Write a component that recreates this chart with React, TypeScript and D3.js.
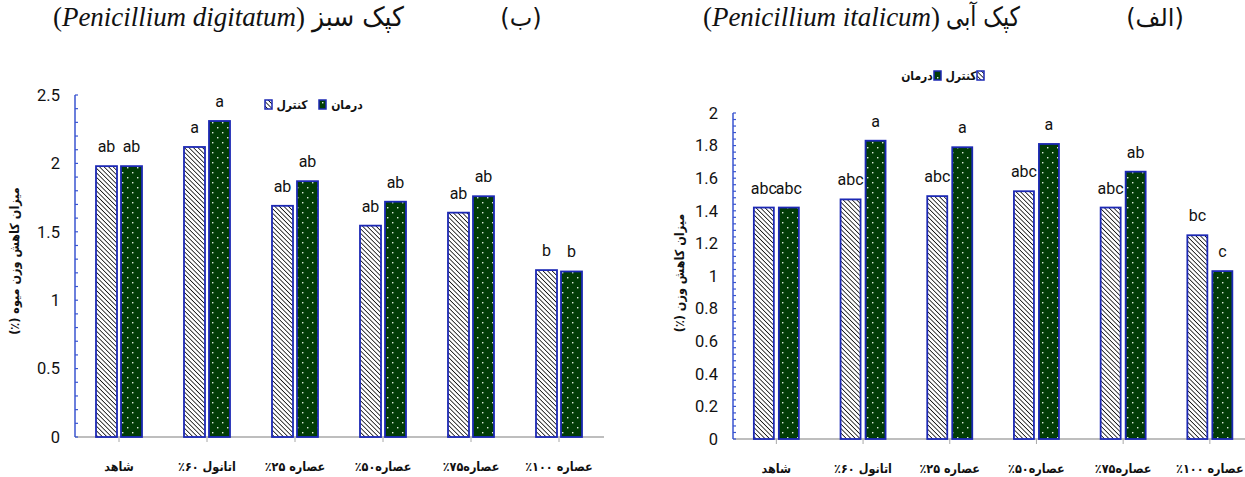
import React, { useEffect } from 'react';
import * as d3 from 'd3';

// ---------- data ----------
const categories = ['شاهد', 'اتانول ۶۰\u200F٪', 'عصاره ۲۵\u200F٪', 'عصاره۵۰\u200F٪', 'عصاره۷۵\u200F٪', 'عصاره ۱۰۰\u200F٪'];
const seriesNames = ['کنترل', 'درمان'];

const digitatumControl = [1.98, 2.12, 1.69, 1.545, 1.64, 1.22];
const digitatumTreatment = [1.98, 2.31, 1.87, 1.72, 1.76, 1.21];
const digitatumControlLetters = ['ab', 'a', 'ab', 'ab', 'ab', 'b'];
const digitatumTreatmentLetters = ['ab', 'a', 'ab', 'ab', 'ab', 'b'];

const italicumControl = [1.42, 1.47, 1.49, 1.52, 1.42, 1.25];
const italicumTreatment = [1.42, 1.83, 1.79, 1.81, 1.64, 1.03];
const italicumControlLetters = ['abc', 'abc', 'abc', 'abc', 'abc', 'bc'];
const italicumTreatmentLetters = ['abc', 'a', 'a', 'a', 'ab', 'c'];

const digitatumTicks = [0, 0.5, 1, 1.5, 2, 2.5];
const italicumTicks = [0, 0.2, 0.4, 0.6, 0.8, 1, 1.2, 1.4, 1.6, 1.8, 2];

const leftYLabel = 'میزان کاهش وزن میوه (٪)';
const rightYLabel = 'میزان کاهش وزن (٪)';

// ---------- styles ----------
const BORDER = '#1c28b4';
const AXIS_BLUE = '#3a55d0';
const GREEN = '#023c06';
const NUM_FONT = "'Liberation Sans Narrow', 'Arial Narrow', Roboto, sans-serif";
const FA_FONT = "'DejaVu Sans Condensed', 'DejaVu Sans', sans-serif";
const SERIF = "'Liberation Serif', 'DejaVu Serif', serif";
const FA_SERIF = "'DejaVu Sans', sans-serif";

type ChartProps = {
  control: number[];
  treatment: number[];
  controlLetters: string[];
  treatmentLetters: string[];
  ticks: number[];
  minorStep: number;
  xLeft: number;
  bandWidth: number;
  yBottom: number;
  yTop: number;
  barW: number;
  gap: number;
  yLabel: string;
  yLabelX: number;
  yLabelY: number;
  axisEnd: number;
};

function BarChart(p: ChartProps) {
  const max = p.ticks[p.ticks.length - 1];
  const y = d3.scaleLinear().domain([0, max]).range([p.yBottom, p.yTop]);
  const x = d3
    .scaleBand<string>()
    .domain(categories)
    .range([p.xLeft, p.xLeft + p.bandWidth * categories.length])
    .padding(0);
  const inner = 2 * p.barW + p.gap;
  const x1 = d3
    .scaleBand<string>()
    .domain(seriesNames)
    .range([-inner / 2, inner / 2])
    .paddingInner(p.gap / (p.barW + p.gap));
  const minor = d3.range(0, max + 1e-9, p.minorStep);
  const fmt = (v: number) => String(+v.toFixed(2));

  return (
    <g>
      {/* x axis */}
      <line x1={p.xLeft} x2={p.axisEnd} y1={p.yBottom} y2={p.yBottom} stroke="#a8a8a8" strokeWidth={1.5} />
      {categories.map((c) => (
        <line key={'xt' + c} x1={x(c)! + x.bandwidth() / 2} x2={x(c)! + x.bandwidth() / 2} y1={p.yBottom} y2={p.yBottom + 5} stroke="#a8a8a8" strokeWidth={1} />
      ))}
      {/* bars */}
      {categories.map((c, i) => {
        const cx = x(c)! + x.bandwidth() / 2;
        const vals = [p.control[i], p.treatment[i]];
        const lets = [p.controlLetters[i], p.treatmentLetters[i]];
        return (
          <g key={'b' + c}>
            {seriesNames.map((s, j) => {
              const bx = cx + x1(s)!;
              const by = y(vals[j]);
              return (
                <g key={s}>
                  <rect
                    x={bx}
                    y={by}
                    width={x1.bandwidth()}
                    height={p.yBottom - by}
                    fill={j === 0 ? 'url(#hatch)' : 'url(#dots)'}
                    stroke={BORDER}
                    strokeWidth={1.8}
                  />
                  <text
                    x={bx + x1.bandwidth() / 2}
                    y={by - 14}
                    textAnchor="middle"
                    fontFamily={NUM_FONT}
                    fontSize={16}
                    fill="#111"
                  >
                    {lets[j]}
                  </text>
                </g>
              );
            })}
            <text
              x={cx}
              y={p.yBottom + 34}
              textAnchor="middle"
              direction="rtl"
              fontFamily={FA_FONT}
              fontWeight="bold"
              fontSize={12.5}
              fill="#111"
            >
              {c}
            </text>
          </g>
        );
      })}
      {/* y axis */}
      <line x1={p.xLeft} x2={p.xLeft} y1={p.yTop} y2={p.yBottom} stroke={AXIS_BLUE} strokeWidth={1.5} />
      {minor.map((v, i) => (
        <line key={'mt' + i} x1={p.xLeft} x2={p.xLeft + 3} y1={y(v)} y2={y(v)} stroke={AXIS_BLUE} strokeWidth={1.2} />
      ))}
      {p.ticks.map((t) => (
        <text key={'yt' + t} x={p.xLeft - 15} y={y(t)} dy="0.35em" textAnchor="end" fontFamily={NUM_FONT} fontSize={16.5} fill="#111">
          {fmt(t)}
        </text>
      ))}
      <text
        transform={`translate(${p.yLabelX},${p.yLabelY}) rotate(-90)`}
        textAnchor="middle"
        dy="0.35em"
        direction="rtl"
        fontFamily={FA_FONT}
        fontWeight="bold"
        fontSize={12.5}
        fill="#111"
      >
        {p.yLabel}
      </text>
    </g>
  );
}

function LegendBox({ x, y, fill }: { x: number; y: number; fill: string }) {
  return <rect x={x} y={y} width={7} height={9} fill={fill} stroke={BORDER} strokeWidth={1.5} />;
}

function LegendText({ x, y, children }: { x: number; y: number; children: React.ReactNode }) {
  return (
    <text x={x} y={y} textAnchor="middle" direction="rtl" fontFamily={FA_FONT} fontWeight="bold" fontSize={12} fill="#111">
      {children}
    </text>
  );
}

export default function App() {
  useEffect(() => {
    document.body.style.margin = '0';
  }, []);
  return (
    <svg width={1245} height={477} style={{ position: 'absolute', left: 0, top: 0, background: '#fff' }}>
      <defs>
        <pattern id="hatch" patternUnits="userSpaceOnUse" width={3.2} height={3.2} patternTransform="rotate(-45)">
          <rect width={3.2} height={3.2} fill="#fff" />
          <line x1={0} y1={0} x2={0} y2={3.2} stroke="#111" strokeWidth={1.6} />
        </pattern>
        <pattern id="dots" patternUnits="userSpaceOnUse" width={10} height={10}>
          <rect width={10} height={10} fill={GREEN} />
          <rect x={2} y={2} width={1.4} height={1.4} fill="#dfeedd" />
          <rect x={7} y={7} width={1.4} height={1.4} fill="#dfeedd" />
        </pattern>
      </defs>

      {/* titles */}
      <text x={53} y={26} fontFamily={SERIF} fontSize={27} fill="#111" textLength={252} lengthAdjust="spacing">
        (<tspan fontStyle="italic">Penicillium digitatum</tspan>)
      </text>
      <text x={358} y={26} textAnchor="middle" direction="rtl" fontFamily={FA_SERIF} fontSize={27} fill="#111" textLength={92} lengthAdjust="spacingAndGlyphs">
        کپک سبز
      </text>
      <text x={521} y={26} textAnchor="middle" direction="rtl" fontFamily={FA_SERIF} fontSize={24} fill="#111">
        (ب)
      </text>
      <text x={703} y={26} fontFamily={SERIF} fontSize={27} fill="#111" textLength={237} lengthAdjust="spacing">
        (<tspan fontStyle="italic">Penicillium italicum</tspan>)
      </text>
      <text x={983} y={26} textAnchor="middle" direction="rtl" fontFamily={FA_SERIF} fontSize={27} fill="#111" textLength={74} lengthAdjust="spacingAndGlyphs">
        کپک آبی
      </text>
      <text x={1155} y={26} textAnchor="middle" direction="rtl" fontFamily={FA_SERIF} fontSize={24} fill="#111">
        (الف)
      </text>

      {/* left chart: Penicillium digitatum */}
      <BarChart
        control={digitatumControl}
        treatment={digitatumTreatment}
        controlLetters={digitatumControlLetters}
        treatmentLetters={digitatumTreatmentLetters}
        ticks={digitatumTicks}
        minorStep={0.1}
        xLeft={75}
        bandWidth={88}
        yBottom={437}
        yTop={95}
        barW={21}
        gap={4}
        yLabel={leftYLabel}
        yLabelX={15}
        yLabelY={261}
        axisEnd={604}
      />
      <LegendBox x={265} y={100} fill="url(#hatch)" />
      <LegendText x={292} y={109}>{seriesNames[0]}</LegendText>
      <LegendBox x={319} y={100} fill="url(#dots)" />
      <LegendText x={347} y={109}>{seriesNames[1]}</LegendText>

      {/* right chart: Penicillium italicum */}
      <BarChart
        control={italicumControl}
        treatment={italicumTreatment}
        controlLetters={italicumControlLetters}
        treatmentLetters={italicumTreatmentLetters}
        ticks={italicumTicks}
        minorStep={0.04}
        xLeft={733}
        bandWidth={86.7}
        yBottom={439}
        yTop={113}
        barW={20}
        gap={5}
        yLabel={rightYLabel}
        yLabelX={680}
        yLabelY={273}
        axisEnd={1245}
      />
      <LegendText x={917} y={80}>{seriesNames[1]}</LegendText>
      <LegendBox x={934} y={71} fill="url(#dots)" />
      <LegendText x={961} y={80}>{seriesNames[0]}</LegendText>
      <LegendBox x={977} y={71} fill="url(#hatch)" />
    </svg>
  );
}
